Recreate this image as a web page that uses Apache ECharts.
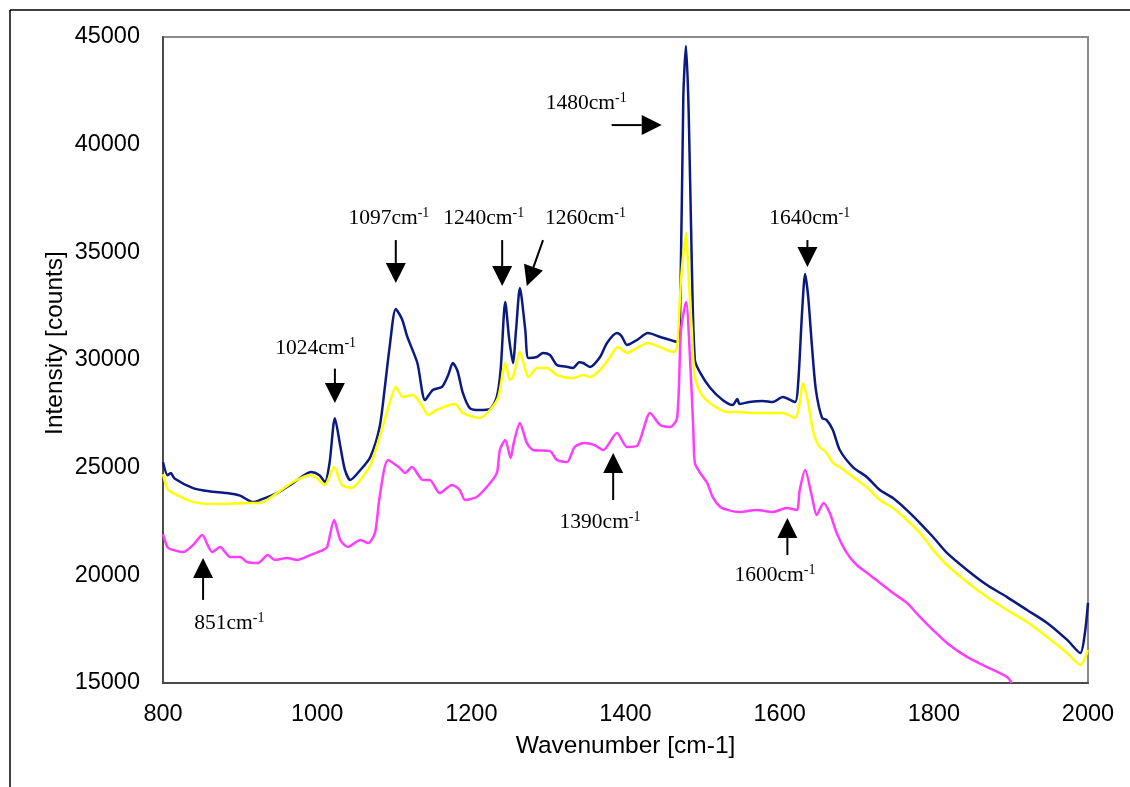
<!DOCTYPE html>
<html>
<head>
<meta charset="utf-8">
<script src="https://cdn.jsdelivr.net/npm/echarts@6/dist/echarts.min.js"></script>
<style>
  html, body { margin: 0; padding: 0; background: #ffffff; }
  #chart { width: 1130px; height: 787px; }
</style>
</head>
<body>
<div id="chart"></div>
<script>
// Raman spectra, wavenumber [cm-1] vs intensity [counts]
const xTicks = [800, 1000, 1200, 1400, 1600, 1800, 2000];
const yTicks = [15000, 20000, 25000, 30000, 35000, 40000, 45000];

const navyWavenumber = [800, 806, 810, 815, 839, 860, 883, 900, 917, 926, 948, 969, 992, 1003, 1010, 1016, 1023, 1030, 1036, 1043, 1056, 1069, 1081, 1088, 1094, 1102, 1110, 1117, 1130, 1140, 1150, 1162, 1170, 1176, 1182, 1189, 1198, 1211, 1224, 1233, 1238, 1244, 1249, 1254, 1258, 1263, 1270, 1274, 1285, 1293, 1302, 1311, 1322, 1332, 1340, 1345, 1354, 1367, 1376, 1389, 1395, 1402, 1415, 1429, 1445, 1467, 1471, 1475, 1478.5, 1482, 1486, 1490, 1497, 1510, 1526, 1539, 1545, 1548, 1561, 1578, 1591, 1604, 1620, 1624, 1629, 1633, 1637, 1642, 1647, 1655, 1661, 1669, 1678, 1695, 1713, 1730, 1747, 1765, 1782, 1799, 1817, 1843, 1869, 1895, 1921, 1947, 1973, 1990, 1996, 2000];
const navyIntensity = [25250, 24650, 24750, 24500, 24050, 23900, 23820, 23700, 23400, 23500, 23820, 24290, 24800, 24650, 24340, 25200, 27300, 26000, 24900, 24430, 24890, 25500, 26890, 28800, 30600, 32370, 31900, 31070, 29860, 28140, 28610, 28750, 29300, 29860, 29500, 28470, 27770, 27680, 27720, 28280, 29540, 32690, 31000, 29860, 31390, 33340, 31390, 30090, 30140, 30330, 30230, 29770, 29700, 29630, 29900, 29860, 29680, 30140, 30790, 31250, 31100, 30700, 30930, 31250, 31070, 30840, 32460, 42210, 44580, 41470, 34500, 30000, 29400, 28700, 28140, 27910, 28190, 27960, 28050, 28100, 28050, 28280, 28050, 28930, 32180, 33990, 32930, 30600, 28610, 27310, 27210, 26750, 25820, 25030, 24570, 23960, 23590, 23030, 22430, 21780, 21040, 20250, 19550, 18990, 18390, 17790, 17000, 16390, 17320, 18720];

const yellowWavenumber = [800, 806, 813, 839, 874, 909, 926, 948, 969, 991, 1000, 1010, 1022, 1032, 1045, 1056, 1069, 1081, 1094, 1102, 1111, 1124, 1137, 1144, 1155, 1172, 1179, 1189, 1211, 1224, 1235, 1244, 1250, 1254, 1263, 1270, 1274, 1285, 1298, 1311, 1332, 1345, 1354, 1367, 1380, 1390, 1402, 1415, 1429, 1445, 1462, 1467, 1472, 1478.5, 1481, 1486, 1490, 1499, 1513, 1532, 1548, 1565, 1591, 1604, 1620, 1626, 1630, 1637, 1643, 1650, 1661, 1669, 1678, 1695, 1713, 1730, 1747, 1765, 1782, 1799, 1817, 1843, 1869, 1895, 1921, 1947, 1973, 1990, 2000];
const yellowIntensity = [24700, 24000, 23820, 23400, 23310, 23360, 23360, 23820, 24340, 24660, 24500, 24200, 25030, 24200, 24060, 24430, 25120, 26420, 28000, 28750, 28280, 28380, 27820, 27450, 27680, 27910, 27960, 27540, 27310, 27680, 28280, 29860, 29070, 29210, 30370, 29540, 29210, 29630, 29630, 29300, 29160, 29300, 29210, 29540, 30140, 30600, 30330, 30560, 30790, 30600, 30370, 30600, 33720, 35900, 34500, 31390, 29210, 28380, 27910, 27590, 27590, 27540, 27540, 27540, 27310, 28000, 28930, 28000, 26750, 26050, 25680, 25220, 25030, 24570, 24100, 23500, 23130, 22570, 21970, 21180, 20480, 19690, 18990, 18390, 17830, 17140, 16390, 15840, 16530];

const magentaWavenumber = [800, 806, 813, 826, 839, 851, 858, 864, 874, 887, 900, 909, 923, 936, 945, 961, 974, 991, 1008, 1013, 1022, 1030, 1040, 1056, 1066, 1075, 1081, 1092, 1107, 1114, 1123, 1137, 1146, 1159, 1175, 1185, 1192, 1207, 1220, 1233, 1237, 1244, 1251, 1255, 1263, 1272, 1280, 1302, 1311, 1324, 1334, 1347, 1360, 1371, 1389, 1402, 1415, 1432, 1445, 1458, 1467, 1472, 1478.5, 1484, 1488, 1490, 1497, 1506, 1513, 1523, 1533, 1548, 1570, 1591, 1609, 1622, 1626, 1633, 1642, 1648, 1657, 1665, 1674, 1687, 1700, 1717, 1730, 1747, 1765, 1782, 1799, 1817, 1843, 1869, 1895, 1901];
const magentaIntensity = [21900, 21300, 21180, 21080, 21410, 21870, 21400, 21080, 21320, 20850, 20850, 20620, 20570, 20940, 20710, 20810, 20710, 20940, 21180, 21320, 22570, 21640, 21320, 21640, 21500, 21970, 23640, 25360, 24990, 24750, 25030, 24430, 24430, 23820, 24200, 23960, 23500, 23640, 24100, 24750, 25820, 26290, 25450, 26150, 27080, 26150, 25820, 25770, 25360, 25260, 25960, 26150, 26050, 25820, 26610, 25960, 26010, 27540, 26980, 26890, 27310, 31390, 32690, 29860, 26750, 25220, 24750, 24290, 23640, 23170, 23030, 22940, 23030, 22940, 23130, 23030, 23960, 24890, 23640, 22800, 23360, 22890, 21970, 21040, 20480, 20020, 19650, 19180, 18720, 18070, 17460, 16860, 16210, 15740, 15280, 15000];

// Peak annotations: label text, arrow tail/tip and label centre in (wavenumber, intensity)
const peakLabels = ['1024', '1097', '1240', '1260', '1480', '1640', '1390', '1600', '851'];
const arrowTails = [[1023, 29600], [1102, 35570], [1240, 35570], [1293, 35570], [1382, 40910], [1636, 35570], [1384, 23500], [1610, 20940], [852, 18860]];
const arrowTips  = [[1023, 28000], [1102, 33580], [1240, 33440], [1272, 33440], [1447, 40910], [1636, 34320], [1384, 25680], [1610, 22660], [852, 20800]];
const labelSpots = [[998, 30560], [1093, 36590], [1216, 36590], [1348, 36590], [1349, 41940], [1639, 36590], [1367, 22480], [1594, 20020], [886, 17790]];

function pairs(xs, ys) { return xs.map((x, i) => [x, ys[i]]); }

const chart = echarts.init(document.getElementById('chart'), null, { renderer: 'canvas' });

function spectrum(name, xs, ys, color) {
  return {
    name: name,
    type: 'line',
    data: pairs(xs, ys),
    showSymbol: false,
    smooth: 0.25,
    clip: true,
    lineStyle: { color: color, width: 2.5 },
    itemStyle: { color: color },
    animation: false
  };
}

const axisText = {
  color: '#000000', fontFamily: 'Liberation Sans, Arial, sans-serif', fontSize: 23.5,
  formatter: function (v) { return String(v); }
};

chart.setOption({
  backgroundColor: '#ffffff',
  animation: false,
  grid: {
    left: 163, top: 37, right: 42, bottom: 104,
    show: true, borderColor: '#8a8a8a', borderWidth: 2,
    outerBoundsMode: 'none'
  },
  xAxis: {
    type: 'value',
    min: xTicks[0], max: xTicks[xTicks.length - 1], interval: xTicks[1] - xTicks[0],
    name: 'Wavenumber [cm-1]',
    nameLocation: 'middle',
    nameGap: 51,
    nameTextStyle: { color: '#000000', fontFamily: 'Liberation Sans, Arial, sans-serif', fontSize: 24.5 },
    axisLine: { show: true, onZero: false, lineStyle: { color: '#4a4a4a', width: 2 } },
    axisTick: { show: false },
    splitLine: { show: false },
    axisLabel: Object.assign({ margin: 20 }, axisText)
  },
  yAxis: {
    type: 'value',
    min: yTicks[0], max: yTicks[yTicks.length - 1], interval: yTicks[1] - yTicks[0],
    axisLine: { show: true, onZero: false, lineStyle: { color: '#4a4a4a', width: 2 } },
    axisTick: { show: false },
    splitLine: { show: false },
    axisLabel: Object.assign({ margin: 23 }, axisText)
  },
  series: [
    spectrum('A', navyWavenumber, navyIntensity, '#0a1a80'),
    spectrum('B', yellowWavenumber, yellowIntensity, '#ffff00'),
    spectrum('C', magentaWavenumber, magentaIntensity, '#ff3cff')
  ]
});

// Overlay: frame, y-axis title, arrows and peak labels
function toPx(p) { return chart.convertToPixel({ gridIndex: 0 }, p); }

const overlay = [
  { type: 'line', silent: true, z: 100, shape: { x1: 10, y1: 10, x2: 1130, y2: 10 }, style: { stroke: '#000000', lineWidth: 1.5 } },
  { type: 'line', silent: true, z: 100, shape: { x1: 10, y1: 10, x2: 10, y2: 787 }, style: { stroke: '#000000', lineWidth: 1.5 } },
  {
    type: 'text', silent: true, z: 100,
    x: 55, y: 343, rotation: Math.PI / 2,
    style: {
      text: 'Intensity [counts]', fill: '#000000',
      font: '24.5px "Liberation Sans", Arial, sans-serif',
      align: 'center', verticalAlign: 'middle'
    }
  }
];

const headLen = 20, headHalf = 10;
peakLabels.forEach((label, i) => {
  const a = toPx(arrowTails[i]);
  const b = toPx(arrowTips[i]);
  const dx = b[0] - a[0], dy = b[1] - a[1];
  const len = Math.hypot(dx, dy);
  const ux = dx / len, uy = dy / len;
  const bx = b[0] - ux * headLen, by = b[1] - uy * headLen;
  overlay.push({
    type: 'line', silent: true, z: 110,
    shape: { x1: a[0], y1: a[1], x2: bx, y2: by },
    style: { stroke: '#000000', lineWidth: 2 }
  });
  overlay.push({
    type: 'polygon', silent: true, z: 110,
    shape: { points: [[b[0], b[1]], [bx - uy * headHalf, by + ux * headHalf], [bx + uy * headHalf, by - ux * headHalf]] },
    style: { fill: '#000000' }
  });
  const c = toPx(labelSpots[i]);
  overlay.push({
    type: 'text', silent: true, z: 110,
    x: c[0], y: c[1],
    style: {
      text: '{n|' + label + 'cm}{s|-1}',
      align: 'center', verticalAlign: 'middle',
      rich: {
        n: { fontFamily: '"Liberation Serif", "Times New Roman", serif', fontSize: 21.5, lineHeight: 24, fill: '#000000', color: '#000000' },
        s: { fontFamily: '"Liberation Serif", "Times New Roman", serif', fontSize: 14, lineHeight: 14, verticalAlign: 'top', fill: '#000000', color: '#000000' }
      }
    }
  });
});

chart.setOption({ graphic: { elements: overlay } });
</script>
</body>
</html>
